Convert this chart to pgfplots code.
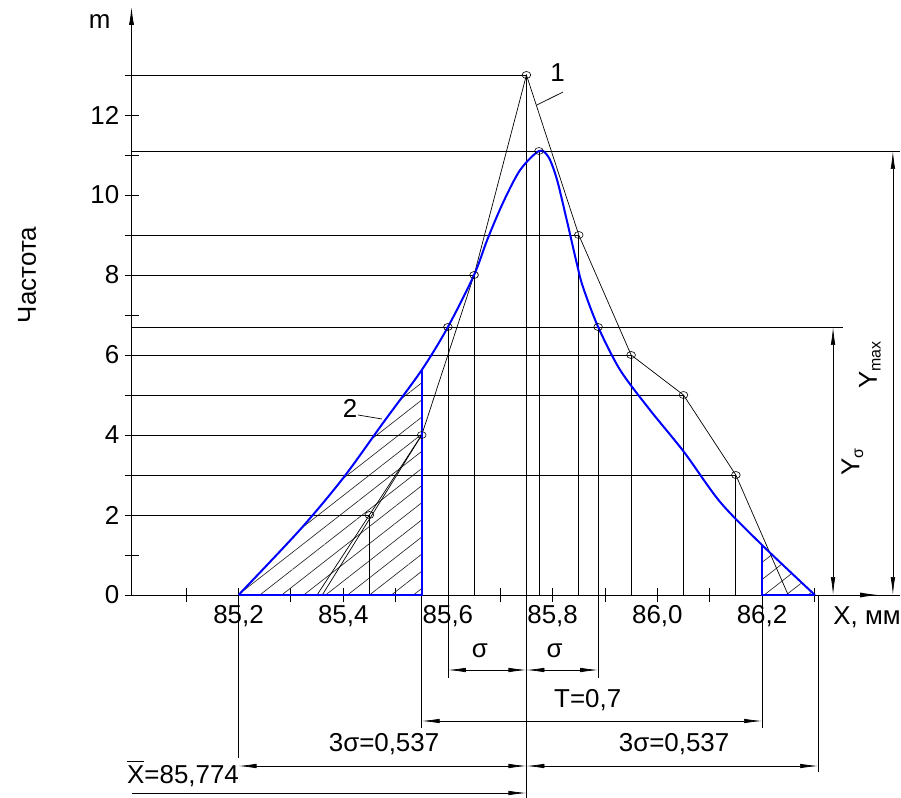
\documentclass[border=0pt]{standalone}
\usepackage{fontspec}
\setmainfont{Liberation Sans}
\usepackage{pgfplots}
\pgfplotsset{compat=1.18}
\usetikzlibrary{arrows.meta,patterns.meta}
\newcommand\fs{\fontsize{26}{30}\selectfont}

\pgfplotsset{
  ln/.style={black, line width=0.7bp, forget plot},
  hatch/.style={draw=none, pattern={Lines[angle=38,distance=13.5bp,line width=0.65bp]}, pattern color=black!85, forget plot},
}

\begin{document}
\begin{tikzpicture}[
  dim/.style={line width=0.7bp, {Latex[length=18bp,width=4.5bp]}-{Latex[length=18bp,width=4.5bp]}},
  lbl/.style={font=\fs, inner sep=0pt},
]
\begin{axis}[
  x=523.5bp, y=40bp,
  xmin=84.9956, xmax=86.4636, ymin=0, ymax=14.7,
  axis x line=bottom, axis y line=left,
  axis line style={line width=0.8bp},
  x axis line style={-},
  y axis line style={-{Latex[length=18bp,width=5bp]}},
  clip=false,
  xtick={85.2,85.4,85.6,85.8,86.0,86.2},
  xticklabels={{85,2},{85,4},{85,6},{85,8},{86,0},{86,2}},
  minor xtick={85.1,85.3,85.5,85.7,85.9,86.1,86.3},
  ytick={0,2,4,6,8,10,12},
  yticklabels={0,2,4,6,8,10,12},
  minor ytick={1,3,5,7,9,11,13},
  tick align=center,
  major tick length=14bp, minor tick length=14bp,
  tick style={black, line width=0.8bp},
  ticklabel style={font=\fs, inner sep=0pt},
  xticklabel style={yshift=-3bp},
  yticklabel style={xshift=-5bp},
]
% hatched tails under the fitted curve
\addplot[hatch, smooth] coordinates {(85.2,0) (85.317,1.625) (85.4,2.925) (85.476,4.3) (85.55,5.625)} \closedcycle;
\addplot[hatch] coordinates {(86.2,0) (86.2,1.25) (86.301,0)} \closedcycle;

% horizontal leaders from the m axis
\addplot[ln] coordinates {(84.9956,13) (85.75,13)};
\addplot[ln] coordinates {(84.9956,11.1) (86.4636,11.1)};
\addplot[ln] coordinates {(84.9956,9) (85.85,9)};
\addplot[ln] coordinates {(84.9956,8) (85.65,8)};
\addplot[ln] coordinates {(84.9956,6.7) (86.3548,6.7)};
\addplot[ln] coordinates {(84.9956,6) (85.95,6)};
\addplot[ln] coordinates {(84.9956,5) (86.05,5)};
\addplot[ln] coordinates {(84.9956,4) (85.55,4)};
\addplot[ln] coordinates {(84.9956,3) (86.15,3)};
\addplot[ln] coordinates {(84.9956,2) (85.45,2)};

% vertical leaders
\addplot[ln] coordinates {(85.45,0) (85.45,2)};
\addplot[ln] coordinates {(85.6,-2.075) (85.6,6.7)};
\addplot[ln] coordinates {(85.65,0) (85.65,8)};
\addplot[ln] coordinates {(85.75,-5.075) (85.75,13)};
\addplot[ln] coordinates {(85.774,0) (85.774,11.1)};
\addplot[ln] coordinates {(85.85,0) (85.85,9)};
\addplot[ln] coordinates {(85.887,-2.075) (85.887,6.7)};
\addplot[ln] coordinates {(85.95,0) (85.95,6)};
\addplot[ln] coordinates {(86.05,0) (86.05,5)};
\addplot[ln] coordinates {(86.15,0) (86.15,3)};
\addplot[ln] coordinates {(85.55,-3.325) (85.55,0)};
\addplot[ln] coordinates {(86.2,-3.325) (86.2,0)};
\addplot[ln] coordinates {(85.2,-4.075) (85.2,0)};
\addplot[ln] coordinates {(86.307,-4.425) (86.307,0)};

% 1: frequency polygon
\addplot[ln] coordinates {(85.35,0) (85.45,2) (85.55,4) (85.65,8) (85.75,13) (85.85,9) (85.95,6) (86.05,5) (86.15,3) (86.25,0)};
\addplot[ln] coordinates {(85.55,4) (85.36,0)};

% 2: fitted curve
\addplot[blue, line width=2bp, smooth] coordinates {
  (85.2,0) (85.317,1.625) (85.4,2.925) (85.476,4.3) (85.55,5.625)
  (85.6,6.7) (85.65,8.0) (85.675,8.875) (85.705,9.8) (85.738,10.625)
  (85.774,11.1) (85.792,10.95) (85.808,10.4) (85.827,9.375) (85.846,8.3)
  (85.858,7.7) (85.887,6.7) (85.929,5.625) (85.986,4.625) (86.051,3.575)
  (86.12,2.325) (86.2,1.25) (86.301,0)};
\addplot[blue, line width=2bp] coordinates {(85.2,0) (85.55,0) (85.55,5.625)};
\addplot[blue, line width=2bp] coordinates {(86.2,1.25) (86.2,0) (86.301,0)};

% point circles
\addplot[only marks, mark=o, mark size=3.5bp, mark options={black, line width=0.6bp, xscale=1.25}] coordinates {
  (85.45,2) (85.55,4) (85.65,8) (85.75,13) (85.85,9) (85.95,6) (86.05,5) (86.15,3)
  (85.6,6.7) (85.774,11.1) (85.887,6.7)};

% callouts
\addplot[ln] coordinates {(85.77,12.25) (85.82,12.575)};
\addplot[ln] coordinates {(85.428,4.5) (85.474,4.4)};
\node[lbl] at (axis cs:85.8095,13.05) {1};
\node[lbl] at (axis cs:85.413,4.675) {2};

% x axis arrow
\draw[line width=0.8bp,-{Latex[length=18bp,width=5bp]}] (axis cs:86.38,0) -- (axis cs:86.4216,0);

% dimensions
\draw[dim] (axis cs:85.6,-1.875) -- (axis cs:85.75,-1.875);
\draw[dim] (axis cs:85.75,-1.875) -- (axis cs:85.887,-1.875);
\draw[dim] (axis cs:85.55,-3.15) -- (axis cs:86.2,-3.15);
\draw[dim] (axis cs:85.2,-4.275) -- (axis cs:85.75,-4.275);
\draw[dim] (axis cs:85.75,-4.275) -- (axis cs:86.307,-4.275);
\draw[line width=0.7bp,-{Latex[length=18bp,width=4.5bp]}] (axis cs:84.9956,-4.95) -- (axis cs:85.75,-4.95);
\draw[dim] (axis cs:86.3357,0) -- (axis cs:86.3357,6.7);
\draw[dim] (axis cs:86.45,0) -- (axis cs:86.45,11.1);

\node[lbl] at (axis cs:85.661,-1.4) {σ};
\node[lbl] at (axis cs:85.804,-1.4) {σ};
\node[lbl] at (axis cs:85.867,-2.625) {T=0,7};
\node[lbl] at (axis cs:85.478,-3.725) {3σ=0,537};
\node[lbl] at (axis cs:86.032,-3.725) {3σ=0,537};
\node[lbl] at (axis cs:85.094,-4.475) {\rlap{\rule[21bp]{17bp}{0.9bp}}X=85,774};
\node[lbl, anchor=west] at (axis cs:86.336,-0.55) {X, мм};
\node[lbl, rotate=90] at (axis cs:86.3726,3.325) {Y$_{\hbox{\fontsize{16}{18}\selectfont σ}}$};
\node[lbl, rotate=90] at (axis cs:86.406,5.75) {Y$_{\hbox{\fontsize{16}{18}\selectfont max}}$};
\node[lbl] at (axis cs:84.935,14.325) {m};
\node[lbl, rotate=90] at (axis cs:84.796,8.0) {Частота};

\coordinate (bbsw) at (axis cs:84.7444,-5.075);
\coordinate (bbne) at (axis cs:86.4655,14.875);
\end{axis}
\pgfresetboundingbox
\path[use as bounding box] (bbsw) rectangle (bbne);
\end{tikzpicture}
\end{document}
